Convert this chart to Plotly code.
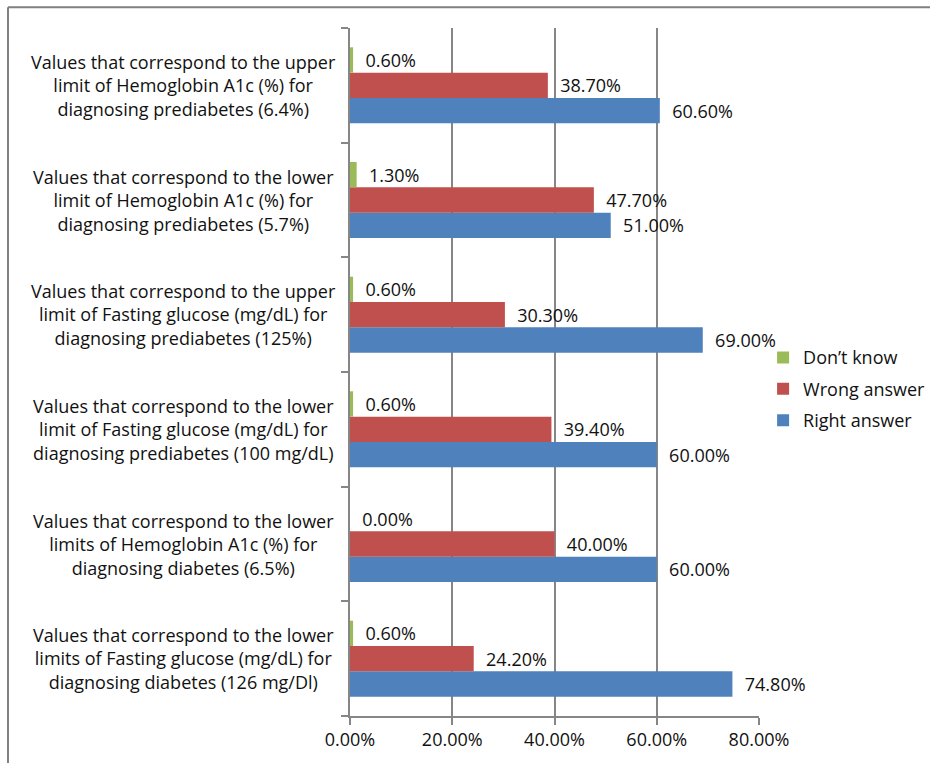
import plotly.graph_objects as go

categories = [
    "Values that correspond to the upper<br>limit of Hemoglobin A1c (%) for<br>diagnosing prediabetes (6.4%)",
    "Values that correspond to the lower<br>limit of Hemoglobin A1c (%) for<br>diagnosing prediabetes (5.7%)",
    "Values that correspond to the upper<br>limit of Fasting glucose (mg/dL) for<br>diagnosing prediabetes (125%)",
    "Values that correspond to the lower<br>limit of Fasting glucose (mg/dL) for<br>diagnosing prediabetes (100 mg/dL)",
    "Values that correspond to the lower<br>limits of Hemoglobin A1c (%) for<br>diagnosing diabetes (6.5%)",
    "Values that correspond to the lower<br>limits of Fasting glucose (mg/dL) for<br>diagnosing diabetes (126 mg/Dl)",
]
dont_know = [0.6, 1.3, 0.6, 0.6, 0.0, 0.6]
wrong_answer = [38.7, 47.7, 30.3, 39.4, 40.0, 24.2]
right_answer = [60.6, 51.0, 69.0, 60.0, 60.0, 74.8]
x_tick_values = [0, 20, 40, 60, 80]
x_tick_labels = ["0.00%", "20.00%", "40.00%", "60.00%", "80.00%"]

FONT = "Open Sans, sans-serif"
FS = 18
TXT = "#111111"
GRID = "#868686"
PAD = "\u00a0\u00a0"

fig = go.Figure()
series = [
    ("Right answer", right_answer, "#4F81BD", "g1", 3),
    ("Wrong answer", wrong_answer, "#C0504D", "g2", 2),
    ("Don\u2019t know", dont_know, "#9BBB59", "g3", 1),
]
for name, vals, color, grp, rank in series:
    fig.add_trace(go.Bar(
        name=name, x=vals, y=categories, orientation="h",
        marker=dict(color=color, line=dict(width=0)),
        text=[PAD + f"{v:.2f}%" for v in vals],
        textposition="outside", cliponaxis=False,
        textfont=dict(family=FONT, size=FS, color=TXT),
        legendgroup=grp, legendrank=rank, hoverinfo="skip",
    ))

annotations = []
for c in categories:
    annotations.append(dict(
        x=-0.408, xref="paper", y=c, yref="y", text=c, showarrow=False,
        xanchor="center", yanchor="middle", align="center",
        font=dict(family=FONT, size=FS, color=TXT),
    ))

shapes = [
    dict(type="line", xref="paper", yref="paper", x0=-0.8362, x1=1.6, y0=1.0303, y1=1.0303,
         line=dict(color="#808080", width=2), layer="above"),
    dict(type="line", xref="paper", yref="paper", x0=-0.8362, x1=-0.8362, y0=1.0303, y1=-0.2,
         line=dict(color="#808080", width=2), layer="above"),
]

fig.update_layout(
    width=990, height=763,
    margin=dict(l=350, r=231, t=28, b=43, pad=0),
    paper_bgcolor="white", plot_bgcolor="white",
    barmode="group", bargap=0.337, bargroupgap=0,
    font=dict(family=FONT, size=FS, color=TXT),
    xaxis=dict(range=[0, 80], tickvals=x_tick_values, ticktext=x_tick_labels,
               showgrid=True, gridcolor=GRID, gridwidth=1.5, zeroline=False,
               showline=True, linecolor=GRID, linewidth=1.5,
               ticks="outside", ticklen=7, tickcolor=GRID, tickwidth=1.5,
               tickfont=dict(family=FONT, size=FS, color=TXT)),
    yaxis=dict(type="category", categoryorder="array", categoryarray=list(reversed(categories)),
               showticklabels=False, showgrid=False, showline=True, linecolor=GRID, linewidth=1.5,
               ticks="outside", tickson="boundaries", ticklen=7, tickcolor=GRID, tickwidth=1.5),
    legend=dict(x=1.01, y=0.475, xanchor="left", yanchor="middle",
                traceorder="grouped", tracegroupgap=5,
                font=dict(family=FONT, size=FS, color=TXT),
                bgcolor="rgba(0,0,0,0)"),
    annotations=annotations,
    shapes=shapes,
    showlegend=True,
)

fig.write_html("out.html", config={"displayModeBar": False},
               post_script="document.body.style.margin='0';document.body.style.overflow='hidden';")
